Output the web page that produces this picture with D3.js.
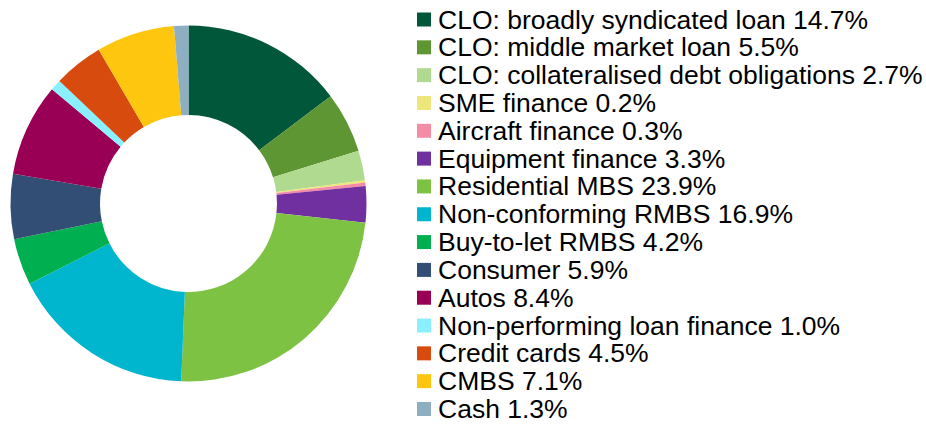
<!DOCTYPE html>
<meta charset="utf-8">
<style>
  body { margin: 0; background: #fff; }
  text { font-family: "Liberation Sans", Arial, sans-serif; }
</style>
<svg width="926" height="425"></svg>
<script src="https://d3js.org/d3.v7.min.js"></script>
<script>

var categories = [
  "CLO: broadly syndicated loan", "CLO: middle market loan", "CLO: collateralised debt obligations",
  "SME finance", "Aircraft finance", "Equipment finance", "Residential MBS", "Non-conforming RMBS",
  "Buy-to-let RMBS", "Consumer", "Autos", "Non-performing loan finance", "Credit cards", "CMBS", "Cash"
];
var shares = [14.7, 5.5, 2.7, 0.2, 0.3, 3.3, 23.9, 16.9, 4.2, 5.9, 8.4, 1.0, 4.5, 7.1, 1.3];
var colours = [
  "#00573a", "#5d9632", "#b0da8f", "#ede67a", "#f48ca8", "#7030a0", "#7dc243", "#00b5ce",
  "#00b050", "#334e74", "#990055", "#8af0ff", "#d84b0e", "#ffc60f", "#8eafc2"
];

var svg = d3.select("svg"),
    cx = 188.5, cy = 203.5,
    outer = 178, inner = 88.5;

var pie = d3.pie().sort(null).value(function(d) { return d; });
var arc = d3.arc().innerRadius(inner).outerRadius(outer);
var colour = d3.scaleOrdinal().domain(d3.range(categories.length)).range(colours);

svg.append("g")
    .attr("transform", "translate(" + cx + "," + cy + ")")
  .selectAll("path")
  .data(pie(shares))
  .join("path")
    .attr("d", arc)
    .attr("fill", function(d, i) { return colour(i); });

var row = d3.scalePoint().domain(d3.range(categories.length)).range([19.5, 409]);

var legend = svg.append("g").selectAll("g")
  .data(categories)
  .join("g")
    .attr("transform", function(d, i) { return "translate(417," + row(i) + ")"; });

legend.append("rect")
    .attr("y", -7)
    .attr("width", 14)
    .attr("height", 14)
    .attr("fill", function(d, i) { return colour(i); });

legend.append("text")
    .attr("x", 21)
    .attr("dy", "0.34em")
    .attr("font-size", 26.5)
    .attr("fill", "#000")
    .text(function(d, i) { return d + " " + shares[i].toFixed(1) + "%"; });

</script>
